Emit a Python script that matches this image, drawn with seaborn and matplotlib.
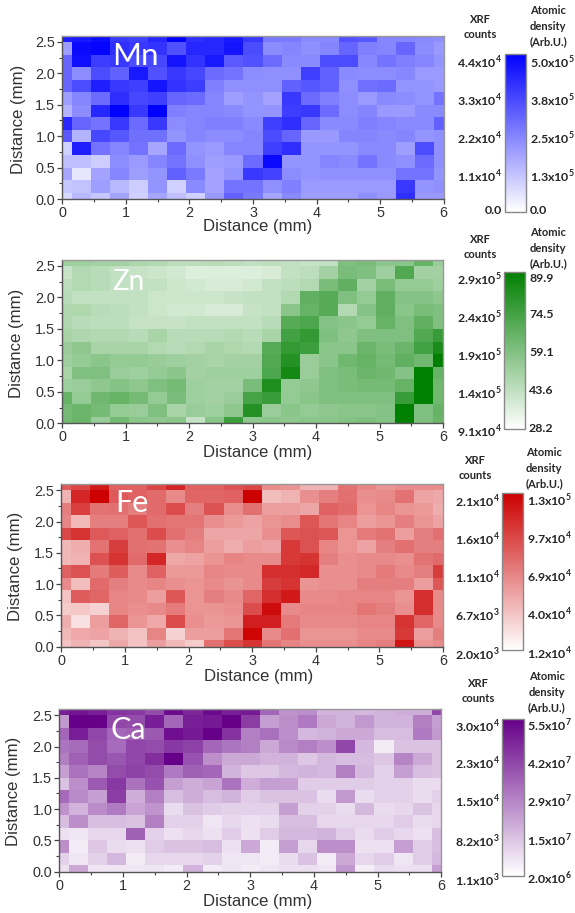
import numpy as np
import seaborn as sns
import matplotlib
matplotlib.use('Agg')
import matplotlib.pyplot as plt
from matplotlib.colors import LinearSegmentedColormap

# Cell values as percent of each colour scale, top row (2.6 mm) first
mn_values = [
    [88,90,95,78,75,85,100,82,85,90,78,52,52,46,46,68,66,48,48,46,44],
    [38,96,98,82,78,80,68,85,85,92,70,45,48,44,48,60,50,48,60,45,40],
    [60,94,76,78,70,72,92,80,90,65,68,58,46,46,70,70,47,55,50,48,42],
    [60,45,70,62,90,68,78,72,58,55,45,44,44,75,62,46,45,45,47,40,40],
    [60,70,88,78,75,92,80,76,50,44,44,44,62,66,62,44,56,58,42,42,40],
    [38,48,58,82,72,75,60,58,48,38,42,36,78,58,50,45,40,46,45,42,55],
    [30,45,85,100,78,100,50,48,48,46,42,42,76,78,58,45,48,40,40,46,46],
    [85,60,55,78,58,78,45,48,50,50,46,75,82,60,46,46,50,48,46,46,62],
    [65,30,72,66,56,56,42,48,45,45,48,70,60,40,40,48,48,46,48,42,44],
    [18,88,55,48,55,35,58,42,40,48,48,75,82,42,42,42,46,46,38,70,44],
    [25,25,20,45,40,48,55,44,38,40,58,96,42,42,48,46,55,46,44,58,44],
    [35,10,36,48,38,42,62,52,36,42,78,74,45,42,44,44,44,44,55,55,42],
    [22,24,38,28,20,42,18,46,36,55,55,44,50,40,40,40,40,40,78,42,44],
    [15,28,22,36,18,35,25,18,40,62,52,35,46,38,38,38,44,40,82,40,40],
]
zn_values = [
    [38,38,36,36,32,30,26,26,28,26,24,26,24,22,24,50,52,45,46,60,40],
    [22,30,28,24,22,20,18,14,14,14,14,16,24,26,36,52,50,38,68,36,36],
    [26,30,28,24,24,24,20,18,16,16,18,24,26,30,52,62,36,52,42,42,38],
    [28,24,24,24,24,20,20,20,20,22,24,24,30,62,66,50,42,62,48,48,44],
    [32,32,28,26,24,20,18,18,16,16,22,24,46,60,66,30,48,62,46,52,50],
    [32,28,26,26,22,22,22,24,24,24,24,28,66,70,48,46,42,60,50,62,50],
    [34,32,30,30,28,34,28,28,28,30,28,34,74,80,50,44,50,50,50,68,78],
    [40,44,34,34,34,30,28,30,34,32,30,66,80,76,46,46,58,52,58,74,90],
    [38,42,46,42,42,40,38,36,34,36,36,68,86,40,46,56,60,54,62,56,100],
    [34,50,50,40,38,42,46,36,38,38,38,70,92,40,50,52,58,56,48,100,60],
    [38,40,44,48,44,50,54,38,36,36,52,88,42,44,50,52,54,54,60,100,56],
    [60,42,56,60,54,42,52,38,36,40,72,78,42,46,50,50,50,50,78,100,56],
    [54,58,54,42,40,50,34,40,38,44,86,40,46,42,44,46,46,48,100,50,60],
    [55,58,40,55,46,44,46,22,46,76,44,46,44,46,46,48,50,48,100,50,58],
]
fe_values = [
    [65,72,90,62,62,72,85,62,62,68,72,45,42,30,30,55,48,42,45,45,45],
    [30,85,100,65,62,58,46,60,60,62,100,26,30,44,50,56,44,46,55,36,34],
    [50,75,55,56,50,58,70,50,68,45,56,38,38,35,62,58,42,48,42,40,32],
    [48,28,50,50,66,56,54,54,44,40,36,42,45,66,54,48,38,42,50,42,36],
    [72,80,65,62,56,70,56,50,35,35,35,44,66,68,66,42,52,55,38,50,56],
    [28,32,55,76,56,55,44,48,38,32,38,36,78,68,48,42,36,50,56,50,50],
    [28,30,68,80,58,85,34,36,42,48,46,46,78,80,50,44,46,46,44,55,58],
    [62,68,52,64,46,62,40,40,48,46,46,82,82,84,44,44,46,52,46,50,76],
    [46,26,58,50,46,48,44,42,46,42,46,76,80,42,44,44,50,50,50,38,66],
    [24,64,60,48,46,38,66,42,50,46,60,82,90,46,46,48,48,48,42,82,46],
    [20,22,18,48,44,46,52,42,42,44,70,95,46,48,48,48,54,50,44,82,46],
    [32,12,38,60,42,34,70,44,40,42,88,88,52,46,46,46,48,48,80,60,46],
    [28,34,36,30,24,48,18,38,38,54,98,46,56,42,42,42,46,46,78,38,50],
    [24,30,22,34,24,38,28,20,56,70,80,54,48,44,44,44,48,50,92,42,46],
]
ca_values = [
    [88,92,88,80,78,70,96,85,96,88,90,60,42,44,30,30,28,30,32,32,72],
    [40,100,100,72,70,88,60,88,90,100,76,38,44,52,34,30,40,30,30,50,38],
    [60,88,72,60,62,65,94,90,100,80,50,56,44,28,30,34,34,26,26,52,40],
    [54,58,70,58,72,70,78,74,60,54,50,34,46,50,44,72,28,8,24,24,24],
    [50,62,70,66,72,82,100,68,44,34,34,30,30,22,28,26,26,22,48,34,24],
    [38,55,48,70,74,70,52,62,60,30,22,22,28,30,28,50,28,18,38,26,24],
    [24,44,65,78,55,68,38,32,36,55,32,38,38,20,20,20,20,18,18,14,14],
    [58,46,38,76,32,50,26,32,26,30,20,24,24,24,14,40,14,18,18,14,18],
    [42,30,45,52,36,42,14,24,20,18,18,18,38,18,18,14,28,14,16,24,16],
    [26,44,26,26,24,50,18,18,10,16,12,14,26,26,16,16,16,16,20,14,16],
    [12,10,16,16,62,18,12,16,12,20,12,20,28,28,30,20,14,20,16,12,26],
    [44,8,22,14,12,20,24,24,26,12,34,8,38,16,44,44,12,12,38,20,26],
    [18,10,18,28,8,16,16,16,18,10,10,8,14,24,8,34,16,20,10,20,28],
    [12,34,10,10,10,10,8,30,8,10,8,10,12,12,10,40,7,14,12,12,38],
]

x_ticks = [0, 1, 2, 3, 4, 5, 6]
y_ticks = [0.0, 0.5, 1.0, 1.5, 2.0, 2.5]
xrf_labels = [
    ['4.4x10^4', '3.3x10^4', '2.2x10^4', '1.1x10^4', '0.0'],
    ['2.9x10^5', '2.4x10^5', '1.9x10^5', '1.4x10^5', '9.1x10^4'],
    ['2.1x10^4', '1.6x10^4', '1.1x10^4', '6.7x10^3', '2.0x10^3'],
    ['3.0x10^4', '2.3x10^4', '1.5x10^4', '8.2x10^3', '1.1x10^3'],
]
density_labels = [
    ['5.0x10^5', '3.8x10^5', '2.5x10^5', '1.3x10^5', '0.0'],
    ['89.9', '74.5', '59.1', '43.6', '28.2'],
    ['1.3x10^5', '9.7x10^4', '6.9x10^4', '4.0x10^4', '1.2x10^4'],
    ['5.5x10^7', '4.2x10^7', '2.9x10^7', '1.5x10^7', '2.0x10^6'],
]

W, H = 575, 913
STEP_X, STEP_Y = 0.3, 0.2  # mm per cell

# panel layout in pixels of the final picture
panels = [
    dict(name='Mn', values=mn_values, color='#0000ff', box=(62.3, 443.7, 35.7, 199), cbar=(505, 526, 54, 211.7),
         name_pos=(112, 65), name_size=22.5, xlab=(258, 227), ylab=(19, 119),
         left_x=502, right_x=530, left_y=[63, 101, 139, 177, 210], right_y=[63, 101, 139, 177, 210],
         xrf_pos=(480, 27), dens_pos=(548, 26)),
    dict(name='Zn', values=zn_values, color='#008000', box=(62, 443, 259.7, 423.3), cbar=(504, 525, 271.7, 429.3),
         name_pos=(112, 290), name_size=20, xlab=(258, 452), ylab=(17, 343),
         left_x=502, right_x=529, left_y=[280, 318, 356, 394, 432], right_y=[278, 315, 353, 390, 428],
         xrf_pos=(480, 247), dens_pos=(548, 248)),
    dict(name='Fe', values=fe_values, color='#cc0000', box=(61.3, 443, 484, 646.7), cbar=(501.7, 522.7, 493.3, 650),
         name_pos=(115, 512), name_size=22, xlab=(259, 676), ylab=(16, 566),
         left_x=500, right_x=527, left_y=[502, 540, 578, 616, 655], right_y=[501, 539, 577, 615, 654],
         xrf_pos=(475, 468), dens_pos=(544, 468)),
    dict(name='Ca', values=ca_values, color='#660088', box=(59.3, 441.3, 709, 871.7), cbar=(502.3, 524, 719, 875.7),
         name_pos=(110, 739), name_size=22, xlab=(258, 901), ylab=(14, 791),
         left_x=500, right_x=527, left_y=[727, 764, 802, 842, 881], right_y=[726, 764, 802, 841, 879],
         xrf_pos=(478, 691), dens_pos=(547, 692)),
]

sns.set_style('white')
plt.rcParams['font.family'] = ['Liberation Sans', 'DejaVu Sans']
plt.rcParams['mathtext.fontset'] = 'custom'
plt.rcParams['mathtext.bf'] = 'Lato:bold'
plt.rcParams['mathtext.rm'] = 'Lato:bold'

fig = plt.figure(figsize=(W / 100, H / 100), dpi=100)


def to_fig(x, y):
    return x / W, 1 - y / H


def add_axes_px(left, right, top, bottom):
    return fig.add_axes([left / W, 1 - bottom / H, (right - left) / W, (bottom - top) / H])


def bold_label(s):
    if '^' in s:
        base, power = s.split('^')
        return base + '$^{\\mathbf{' + power + '}}$'
    return s


for i, p in enumerate(panels):
    ax = add_axes_px(*p['box'])
    cax = add_axes_px(*p['cbar'])
    cmap = LinearSegmentedColormap.from_list(p['name'], ['#ffffff', p['color']])
    data = np.array(p['values'])
    sns.heatmap(data, ax=ax, cbar_ax=cax, cmap=cmap, vmin=0, vmax=100,
                xticklabels=False, yticklabels=False, linewidths=0)

    n_rows = data.shape[0]
    ax.set_xticks([0.5 + d / STEP_X for d in x_ticks])
    ax.set_xticklabels([str(d) for d in x_ticks])
    ax.set_xticks([0.5 + (d + 0.5) / STEP_X for d in x_ticks[:-1]], minor=True)
    ax.set_yticks([n_rows - 0.5 - d / STEP_Y for d in y_ticks])
    ax.set_yticklabels(['%.1f' % d for d in y_ticks], rotation=0)
    ax.set_yticks([n_rows - 0.5 - (d + 0.25) / STEP_Y for d in y_ticks[:-1]], minor=True)
    # heatmap cells sit on integers, clip the outer rows/cols to half cells
    ax.set_xlim(0.5, data.shape[1] - 0.5)
    ax.set_ylim(n_rows - 0.5, 0.5)
    ax.tick_params(which='major', bottom=True, left=True, length=3.5, width=0.9, color='#444444',
                   labelsize=10.4, labelcolor='#333333', pad=1.5)
    ax.tick_params(which='minor', bottom=True, left=True, length=2, width=0.8, color='#444444')
    for side, spine in ax.spines.items():
        spine.set_visible(True)
        spine.set_color('#555555' if side in ('left', 'bottom') else '#999999')
        spine.set_linewidth(1.0)

    # colorbar
    cbar = ax.collections[0].colorbar
    cbar.set_ticks([])
    cbar.outline.set_visible(True)
    cbar.outline.set_edgecolor('#888888')
    cbar.outline.set_linewidth(1.0)

    # element name and axis titles
    nx, ny = to_fig(*p['name_pos'])
    fig.text(nx, ny, p['name'], color='white', fontsize=p['name_size'], family='Lato', va='baseline', ha='left')
    lx, ly = to_fig(*p['xlab'])
    fig.text(lx, ly, 'Distance (mm)', fontsize=12.1, color='#333333', ha='center', va='center')
    lx, ly = to_fig(*p['ylab'])
    fig.text(lx, ly, 'Distance (mm)', fontsize=12.1, color='#333333', ha='center', va='center', rotation=90)

    # colorbar text on both sides
    for label, yp in zip(xrf_labels[i], p['left_y']):
        tx, ty = to_fig(p['left_x'], yp)
        fig.text(tx, ty, bold_label(label), fontsize=8.9, family='Lato', weight='bold', color='#262626',
                 ha='right', va='center')
    for label, yp in zip(density_labels[i], p['right_y']):
        tx, ty = to_fig(p['right_x'], yp)
        fig.text(tx, ty, bold_label(label), fontsize=8.9, family='Lato', weight='bold', color='#262626',
                 ha='left', va='center')
    tx, ty = to_fig(*p['xrf_pos'])
    fig.text(tx, ty, 'XRF\ncounts', fontsize=8, family='Lato', weight='bold', color='#262626',
             ha='center', va='center', linespacing=1.55)
    tx, ty = to_fig(*p['dens_pos'])
    fig.text(tx, ty, 'Atomic\ndensity\n(Arb.U.)', fontsize=8, family='Lato', weight='bold', color='#262626',
             ha='center', va='center', linespacing=1.55)

fig.savefig('out.png', dpi=100)
